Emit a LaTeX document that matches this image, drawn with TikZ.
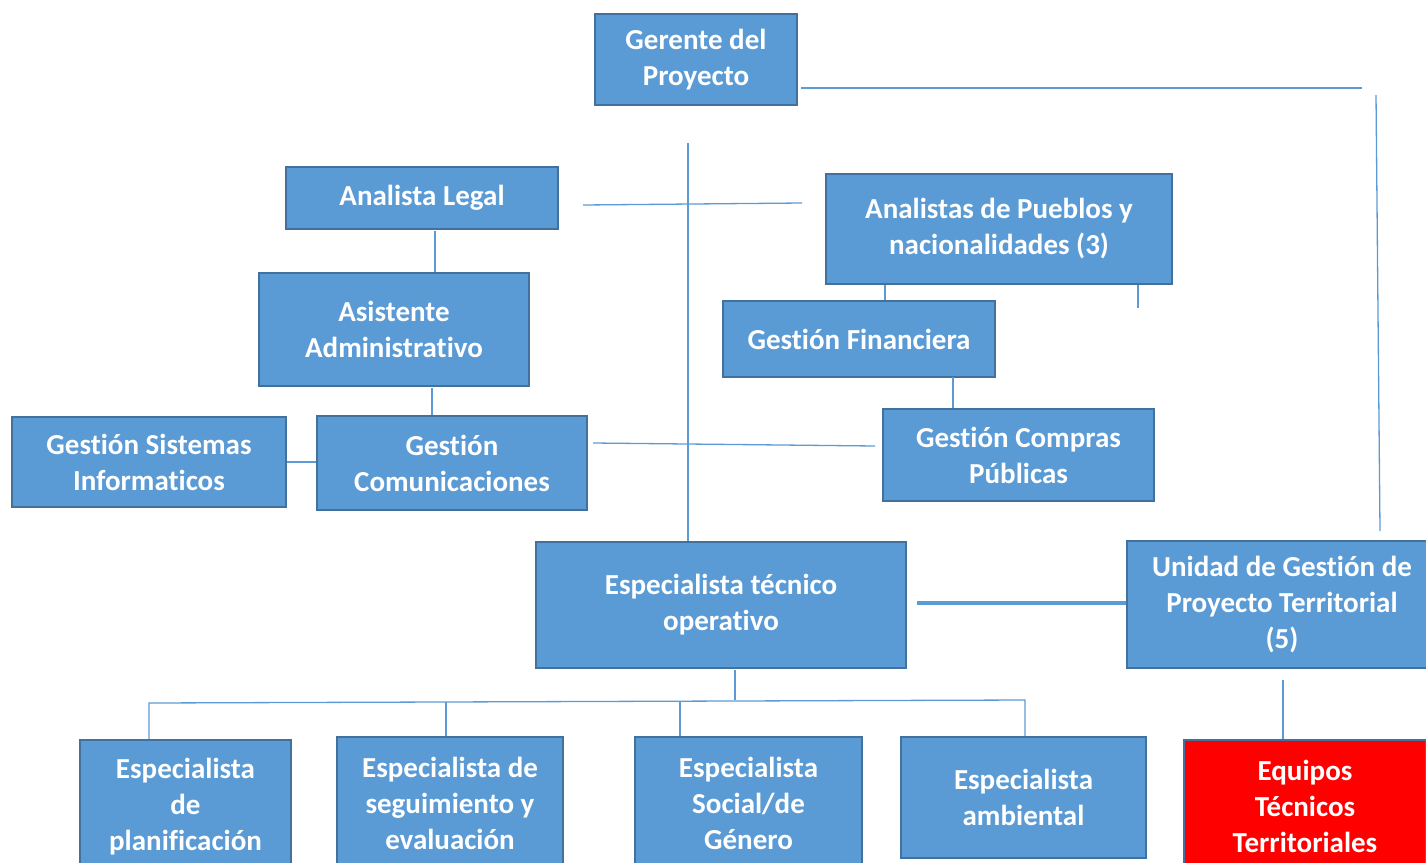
\documentclass[tikz,border=0pt]{standalone}
\usepackage{fontspec}
\setmainfont{Carlito}[Ligatures=NoCommon]
\usetikzlibrary{positioning}
\definecolor{boxblue}{HTML}{5B9BD5}
\definecolor{boxedge}{HTML}{41719C}
\definecolor{boxred}{HTML}{FF0000}
\tikzset{
	role/.style={draw=boxedge, line width=2.5pt, fill=boxblue, text=white, align=center, inner sep=0pt, font=\fontsize{29}{36}\selectfont\bfseries}, % one box of the chart
	link/.style={draw=boxblue, line width=1.3pt}, % thin connector
}
\begin{document}
\begin{tikzpicture}[x=1pt,y=-1pt]
	\useasboundingbox (0,0) rectangle (1426,862);
	\clip (0,0) rectangle (1426,862);

	% top and middle boxes
	\node[role, minimum width=202pt, minimum height=91pt] (gerente) at (696,59.5) {Gerente del\\Proyecto};
	\node[role, minimum width=272pt, minimum height=62pt] (legal) at (422,198) {Analista Legal};
	\node[role, minimum width=346pt, minimum height=110pt] (pueblos) at (999,229) {Analistas de Pueblos y\\nacionalidades (3)};
	\node[role, minimum width=270pt, minimum height=113pt] (asistente) at (394,329.5) {Asistente\\Administrativo};
	\node[role, minimum width=272pt, minimum height=76pt] (financiera) at (859,339) {Gestión Financiera};
	\node[role, minimum width=274pt, minimum height=90pt] (sistemas) at (149,462) {Gestión Sistemas\\Informaticos};
	\node[role, minimum width=270pt, minimum height=94pt] (comunic) at (452,463) {Gestión\\Comunicaciones};
	\node[role, minimum width=271pt, minimum height=92pt] (compras) at (1018.5,455) {Gestión Compras\\Públicas};
	\node[role, minimum width=370pt, minimum height=126pt] (tecnico) at (721,605) {Especialista técnico\\operativo};
	\node[role, minimum width=310pt, minimum height=127pt] (unidad) at (1282,604.5) {Unidad de Gestión de\\Proyecto Territorial\\(5)};

	% bottom row
	\node[role, minimum width=211pt, minimum height=134pt] (planif) at (185.5,807) {Especialista\\de\\planificación};
	\node[role, minimum width=226pt, minimum height=132pt] (seguim) at (450,803) {Especialista de\\seguimiento y\\evaluación};
	\node[role, minimum width=227pt, minimum height=132pt] (social) at (748.5,803) {Especialista\\Social/de\\Género};
	\node[role, minimum width=245pt, minimum height=121pt] (ambiental) at (1023.5,797.5) {Especialista\\ambiental};
	\node[role, fill=boxred, minimum width=242pt, minimum height=132pt] (equipos) at (1305,806) {Equipos\\Técnicos\\Territoriales};

	% free ends of the connectors
	\coordinate (gerA) at (801,88);
	\coordinate (gerB) at (1362,88);
	\coordinate (uniA) at (1376,95);
	\coordinate (uniB) at (1380,531);
	\coordinate (center) at (688,143);
	\coordinate (legA) at (583,205);
	\coordinate (legB) at (802,203);
	\coordinate (legDrop) at (435,231);
	\coordinate (asisDrop) at (432,388);
	\coordinate (comA) at (593,443);
	\coordinate (comB) at (875,446);
	\coordinate (puebDrop) at (885,284);
	\coordinate (puebStub) at (1138,308);
	\coordinate (finDrop) at (953,377);
	\coordinate (tecA) at (917,603);
	\coordinate (tecDrop) at (735,670);
	\coordinate (busL) at (149,703);
	\coordinate (busR) at (1025,700);
	\coordinate (uniDrop) at (1283,680);

	% connectors
	\draw[link] (gerA) -- (gerB);
	\draw[link] (uniA) -- (uniB);
	\draw[link] (center) -- (center |- tecnico.north);
	\draw[link] (legA) -- (legB);
	\draw[link] (legDrop) -- (legDrop |- asistente.north);
	\draw[link] (asisDrop) -- (asisDrop |- comunic.north);
	\draw[link] (sistemas.east) -- (sistemas.east -| comunic.west);
	\draw[link] (comA) -- (comB);
	\draw[link] (puebDrop |- pueblos.south) -- (puebDrop |- financiera.north);
	\draw[link] (puebStub |- pueblos.south) -- (puebStub);
	\draw[link] (finDrop) -- (finDrop |- compras.north);
	\draw[link, line width=3.5pt] (tecA) -- (tecA -| unidad.west);
	\draw[link] (tecDrop) -- (tecDrop |- busR);
	\draw[link] (busL |- planif.north) -- (busL) -- (busR) -- (busR |- ambiental.north);
	\foreach \n/\x in {seguim/446, social/680}
	{
		\coordinate (d\n) at (\x,702);
		\draw[link] (d\n) -- (d\n |- \n.north);
	}
	\draw[link] (uniDrop) -- (uniDrop |- equipos.north);
\end{tikzpicture}
\end{document}
